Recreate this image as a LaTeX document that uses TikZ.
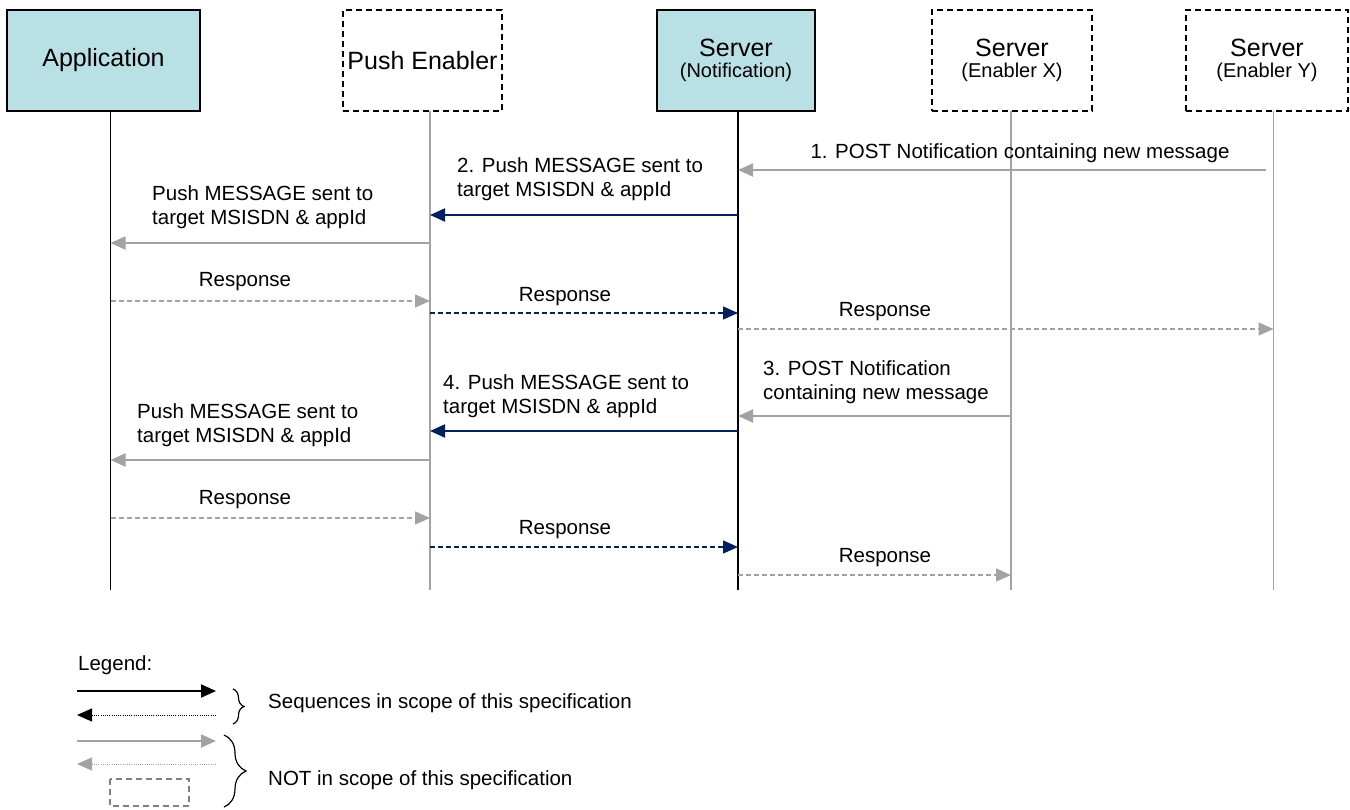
\documentclass[tikz,border=0pt]{standalone}
\usepackage{fontspec}
\setmainfont{Liberation Sans}
\usetikzlibrary{arrows.meta}
\usetikzlibrary{decorations.pathreplacing}
\usepackage{xcolor}
\definecolor{boxcyan}{RGB}{185,224,228}
\definecolor{navy}{RGB}{0,32,96}
\definecolor{lgray}{RGB}{163,163,163}

\tikzset{
 actor/.style={draw=black, line width=2pt, fill=boxcyan, minimum height=101pt, inner sep=0pt, outer sep=0pt, align=center, font=\fontsize{25}{26}\selectfont},
 ghost/.style={draw=black, line width=1.6pt, dash pattern=on 6pt off 4pt, minimum height=101pt, inner sep=0pt, outer sep=0pt, align=center, font=\fontsize{25}{26}\selectfont},
 lbl/.style={inner sep=0pt, align=left, font=\fontsize{20.5}{24}\selectfont},
 tip/.style={-{Triangle[length=15pt,width=13pt]}},
 msg/.style={tip, line width=2pt},
 resp/.style={tip, line width=1.5pt, dash pattern=on 5pt off 3pt},
 dotmsg/.style={tip, line width=1pt, dash pattern=on 1pt off 1.2pt},
}
\newcommand{\subt}[1]{{\fontsize{20}{20}\selectfont #1}}

\begin{document}
\begin{tikzpicture}[x=1pt, y=-1pt]
\useasboundingbox (0,0) rectangle (1350,810);

\node[actor, minimum width=193pt] (app-box) at (103.5,60.5) {Application};
\node[ghost, minimum width=159pt] (pe-box) at (422.5,60.5) {Push Enabler};
\node[actor, minimum width=158pt] (srv-box) at (736,60.5) {Server\\[-5pt]\subt{(Notification)}};
\node[ghost, minimum width=160pt] (enx-box) at (1012,60.5) {Server\\[-5pt]\subt{(Enabler X)}};
\node[ghost, minimum width=162pt] (eny-box) at (1267,60.5) {Server\\[-5pt]\subt{(Enabler Y)}};

\foreach \n/\x in {app/110.5, pe/430, srv/738, enx/1011, eny/1273.5} {
 \coordinate (\n) at (\x,111);
 \coordinate (\n-end) at (\x,590);
}
\draw[black, line width=1.6pt] (app) -- (app-end);
\draw[black, line width=1.6pt] (srv) -- (srv-end);
\foreach \n in {pe, enx, eny}
 \draw[lgray, line width=1.5pt] (\n) -- (\n-end);

\foreach \r/\y in {1/170, 2/215, 3/243, 4/301, 5/313, 6/329, 7/416, 8/431, 9/460, 10/518, 11/547, 12/575}
 \coordinate (r\r) at (0,\y);

\draw[msg, lgray, shorten <=8pt] (eny |- r1) -- (srv |- r1);
\draw[msg, navy] (srv |- r2) -- (pe |- r2);
\draw[msg, lgray] (pe |- r3) -- (app |- r3);
\draw[resp, lgray] (app |- r4) -- (pe |- r4);
\draw[resp, navy] (pe |- r5) -- (srv |- r5);
\draw[resp, lgray] (srv |- r6) -- (eny |- r6);
\draw[msg, lgray] (enx |- r7) -- (srv |- r7);
\draw[msg, navy] (srv |- r8) -- (pe |- r8);
\draw[msg, lgray] (pe |- r9) -- (app |- r9);
\draw[resp, lgray] (app |- r10) -- (pe |- r10);
\draw[resp, navy] (pe |- r11) -- (srv |- r11);
\draw[resp, lgray] (srv |- r12) -- (enx |- r12);

\node[lbl] (t1) at (1020,153) {1. POST Notification containing new message};
\node[lbl, anchor=west] (t2) at (457,179) {2. Push MESSAGE sent to\\target MSISDN \& appId};
\node[lbl, anchor=west] (t2b) at (152,207.5) {Push MESSAGE sent to\\target MSISDN \& appId};
\node[lbl, anchor=west] (t3) at (763,382.5) {3. POST Notification\\containing new message};
\node[lbl, anchor=west] (t4) at (443,396) {4. Push MESSAGE sent to\\target MSISDN \& appId};
\node[lbl, anchor=west] (t4b) at (137,425) {Push MESSAGE sent to\\target MSISDN \& appId};
\foreach \n/\x/\y in {a/245/282, b/565/297, c/885/312, d/245/500, e/565/530, f/885/558}
 \node[lbl] (resp-\n) at (\x,\y) {Response};

\node[lbl, anchor=west] (legend) at (78,665) {Legend:};
\coordinate (lg-l) at (77,0);
\coordinate (lg-r) at (216,0);
\coordinate (lg1) at (0,691);
\coordinate (lg2) at (0,715);
\coordinate (lg3) at (0,741);
\coordinate (lg4) at (0,764);
\draw[msg, black] (lg-l |- lg1) -- (lg-r |- lg1);
\draw[dotmsg, black] (lg-r |- lg2) -- (lg-l |- lg2);
\draw[msg, lgray] (lg-l |- lg3) -- (lg-r |- lg3);
\draw[dotmsg, lgray] (lg-r |- lg4) -- (lg-l |- lg4);
\draw[gray, line width=1.3pt, dash pattern=on 6pt off 4pt] (110,779) rectangle (189,806);
\draw[black, line width=1.2pt, decorate, decoration={brace, amplitude=11pt}] (233,689) -- (233,724);
\draw[black, line width=1.2pt, decorate, decoration={brace, amplitude=22pt}] (224,735) -- (224,807);
\node[lbl, anchor=west] (in-scope) at (268,703) {Sequences in scope of this specification};
\node[lbl, anchor=west] (out-scope) at (268,780) {NOT in scope of this specification};
\end{tikzpicture}
\end{document}
